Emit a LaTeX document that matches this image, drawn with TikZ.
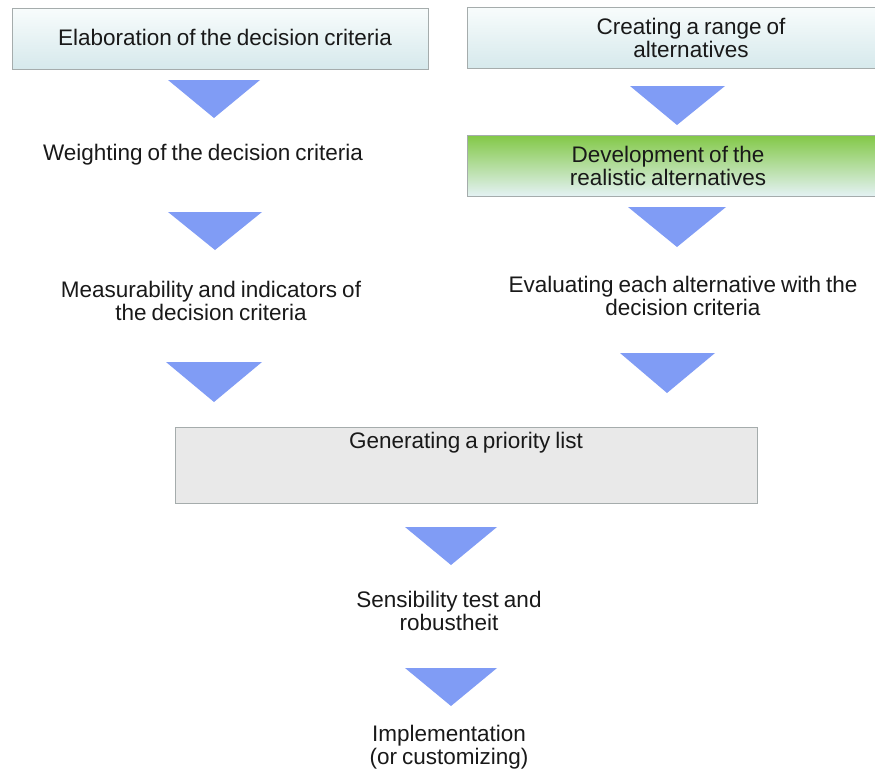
\documentclass[tikz,border=0pt]{standalone}
\usepackage{fontspec}
\setmainfont{Liberation Sans}[WordSpace={0.8}]
\begin{document}
\definecolor{tri}{RGB}{128,156,245}
\definecolor{boxline}{RGB}{165,172,172}
\definecolor{boxtop}{RGB}{248,252,252}
\definecolor{boxbot}{RGB}{214,233,236}
\definecolor{greentop}{RGB}{130,200,70}
\definecolor{greenbot}{RGB}{228,242,244}
\definecolor{greyfill}{RGB}{233,233,233}
\definecolor{txt}{RGB}{25,25,25}
\begin{tikzpicture}[x=1pt,y=-1pt,
  every node/.style={font=\fontsize{22.5}{23}\selectfont, text=txt, align=center, inner sep=0pt},
  stepbox/.style={draw=boxline, line width=1pt, top color=boxtop, bottom color=boxbot},
  greenbox/.style={draw=boxline, line width=1pt, top color=greentop, bottom color=greenbot},
  greybox/.style={draw=boxline, line width=1pt, fill=greyfill},
  arrowtri/.style={fill=tri}]
\useasboundingbox (0,0) rectangle (875,774);

% boxes
\draw[stepbox] (12,8) rectangle (428,69);
\draw[stepbox] (467,7) rectangle (876,68);
\draw[greenbox] (467,135) rectangle (876,196);
\draw[greybox] (175,427) rectangle (757,503);

% labels
\node (elab) at (225,37) {Elaboration of the decision criteria};
\node (range) at (691,38) {Creating a range of\\alternatives};
\node (weight) at (203,155) {Weighting of the decision criteria};
\node (devel) at (668,166) {Development of the\\realistic alternatives};
\node (measure) at (211,301) {Measurability and indicators of\\the decision criteria};
\node (evaluate) at (683,296) {Evaluating each alternative with the\\decision criteria};
\node (prio) at (466,443) {Generating a priority list};
\node (sens) at (449,611) {Sensibility test and\\robustheit};
\node (impl) at (449,747) {Implementation\\(or customizing)};

% downward arrows
\fill[arrowtri] (168,80) -- (260,80) -- (214,118) -- cycle;
\fill[arrowtri] (630,86) -- (725,86) -- (677,125) -- cycle;
\fill[arrowtri] (168,212) -- (262,212) -- (215,250) -- cycle;
\fill[arrowtri] (628,207) -- (726,207) -- (677,247) -- cycle;
\fill[arrowtri] (166,362) -- (262,362) -- (214,402) -- cycle;
\fill[arrowtri] (620,353) -- (715,353) -- (667,393) -- cycle;
\fill[arrowtri] (405,527) -- (497,527) -- (451,565) -- cycle;
\fill[arrowtri] (405,668) -- (497,668) -- (451,706) -- cycle;
\end{tikzpicture}
\end{document}
